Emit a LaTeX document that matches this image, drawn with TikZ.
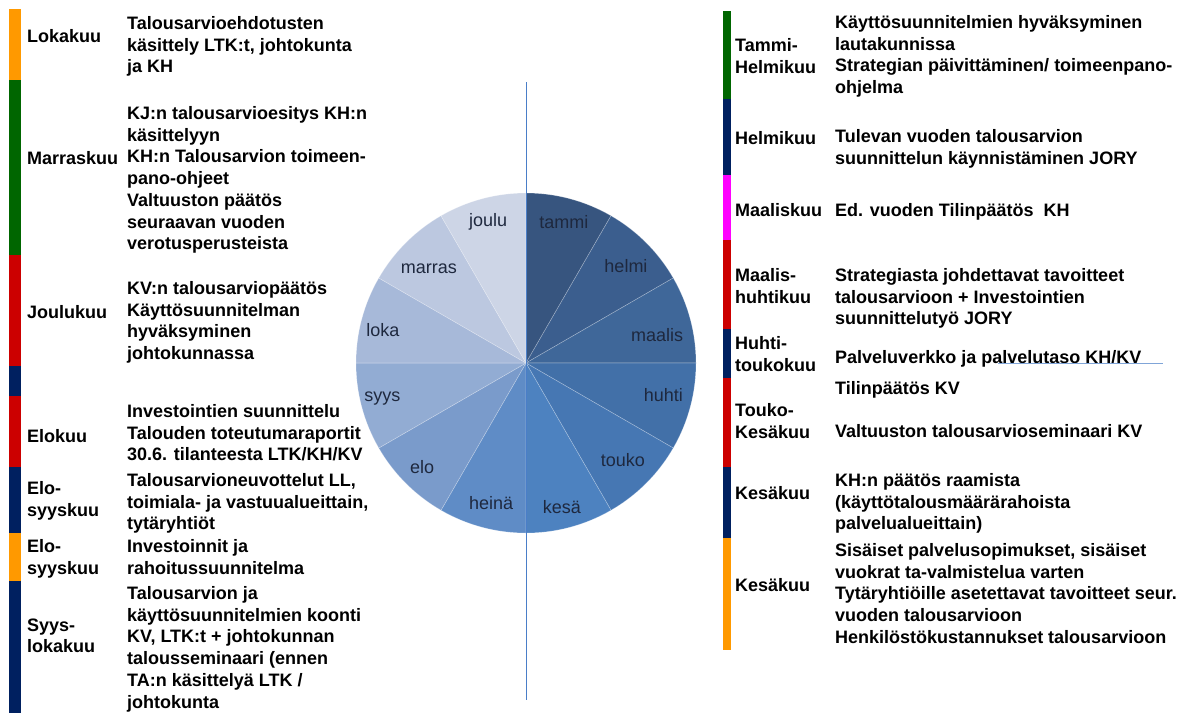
\documentclass[tikz,border=0pt]{standalone}
\usepackage{fontspec}
\setmainfont{Liberation Sans}
\usetikzlibrary{positioning}

\definecolor{barorange}{RGB}{255,153,0}
\definecolor{bargreen}{RGB}{0,102,0}
\definecolor{barred}{RGB}{204,0,0}
\definecolor{barnavy}{RGB}{0,32,96}
\definecolor{barpink}{RGB}{255,0,255}
\definecolor{axisblue}{RGB}{74,126,200}
\definecolor{pietext}{RGB}{30,40,62}
\definecolor{pie0}{RGB}{55,85,127}
\definecolor{pie1}{RGB}{59,94,142}
\definecolor{pie2}{RGB}{63,103,153}
\definecolor{pie3}{RGB}{66,112,168}
\definecolor{pie4}{RGB}{70,119,179}
\definecolor{pie5}{RGB}{77,130,192}
\definecolor{pie6}{RGB}{95,140,198}
\definecolor{pie7}{RGB}{122,155,203}
\definecolor{pie8}{RGB}{146,172,211}
\definecolor{pie9}{RGB}{167,185,217}
\definecolor{pie10}{RGB}{188,200,224}
\definecolor{pie11}{RGB}{205,213,230}

\begin{document}
\begin{tikzpicture}[
  x=1pt, y=1pt,
  month/.style={anchor=north west, inner sep=0pt, align=left,
                font=\bfseries\fontsize{18}{21.7}\selectfont,
                execute at begin node=\strut},
  task/.style={month},
  slice/.style={draw=white, draw opacity=0.3, line width=0.6pt},
  slicelabel/.style={inner sep=0pt, text=pietext,
                     font=\fontsize{18}{21.7}\selectfont},
  axis/.style={draw=axisblue, line width=1pt}
]
\useasboundingbox (0,0) rectangle (1183,-713);

%% Colour bars
\foreach \top/\bot/\col in {9/80/barorange, 80/255/bargreen, 255/366/barred,
    366/396/barnavy, 396/467/barred, 467/533/barnavy, 533/581/barorange,
    581/713/barnavy}
  \fill[\col] (9,-\top) rectangle (21,-\bot);
\foreach \top/\bot/\col in {11/99/bargreen, 99/175/barnavy, 175/240/barpink,
    240/329/barred, 329/378/barnavy, 378/467/barred, 467/538/barnavy,
    538/650/barorange}
  \fill[\col] (723,-\top) rectangle (731,-\bot);

%% Year wheel
\begin{scope}[shift={(526,-363)}]
  \foreach \name/\ang/\rad [count=\i from 0] in {tammi/75/146, helmi/44/139,
      maalis/12/134, huhti/-13/141, touko/-45/137, kes\"a/-76/148,
      hein\"a/-104/144, elo/-135/147, syys/-166/148, loka/167/147,
      marras/136/135, joulu/105/146} {
    \filldraw[slice, fill=pie\i] (0,0) -- ({90-30*\i}:170)
      arc[start angle={90-30*\i}, end angle={60-30*\i}, radius=170] -- cycle;
    \node[slicelabel] (s-\i) at (\ang:\rad) {\name};
  }
\end{scope}
\coordinate (ax-top) at (526,-82);
\coordinate (ax-bot) at (526,-700);
\draw[axis] (ax-top) -- (ax-bot);

%% Left column: autumn
\node[month] (lbl-loka) at (27,-27.3) {Lokakuu};
\node[task] (txt-loka) at (127,-16.3)
  {Talousarvioehdotusten\\k\"asittely LTK:t, johtokunta\\ja KH};

\node[month] (lbl-marras) at (27,-149.3) {Marraskuu};
\node[task] (txt-marras) at (127,-106.3)
  {KJ:n talousarvioesitys KH:n\\k\"asittelyyn\\KH:n Talousarvion toimeen-\\
   pano-ohjeet\\Valtuuston p\"a\"at\"os\\seuraavan vuoden\\verotusperusteista};

\node[month] (lbl-joulu) at (27,-303.3) {Joulukuu};
\node[task] (txt-joulu) at (127,-281.3)
  {KV:n talousarviop\"a\"at\"os\\K\"aytt\"osuunnitelman\\hyv\"aksyminen\\johtokunnassa};

\node[month] (lbl-elo) at (27,-427.3) {Elokuu};
\node[task] (txt-elo) at (127,-404.3)
  {Investointien suunnittelu\\Talouden toteutumaraportit\\30.6. tilanteesta LTK/KH/KV};

\node[month] (lbl-elosyys) at (27,-481.3) {Elo-\\syyskuu};
\node[task] (txt-elosyys) at (127,-473.3)
  {Talousarvioneuvottelut LL,\\toimiala- ja vastuualueittain,\\tyt\"aryhti\"ot};

\node[month] (lbl-elosyys2) at (27,-539.3) {Elo-\\syyskuu};
\node[task] (txt-elosyys2) at (127,-539.3)
  {Investoinnit ja\\rahoitussuunnitelma};

\node[month] (lbl-syysloka) at (27,-618.3) {Syys-\\lokakuu};
\node[task] (txt-syysloka) at (127,-586.3)
  {Talousarvion ja\\k\"aytt\"osuunnitelmien koonti\\KV, LTK:t + johtokunnan\\
   talousseminaari (ennen\\TA:n k\"asittely\"a LTK /\\johtokunta};

%% Right column: spring
\node[month] (lbl-tammi) at (735,-38.3) {Tammi-\\Helmikuu};
\node[task] (txt-tammi) at (835,-15.3)
  {K\"aytt\"osuunnitelmien hyv\"aksyminen\\lautakunnissa\\
   Strategian p\"aivitt\"aminen/ toimeenpano-\\ohjelma};

\node[month] (lbl-helmi) at (735,-129.3) {Helmikuu};
\node[task] (txt-helmi) at (835,-129.3)
  {Tulevan vuoden talousarvion\\suunnittelun k\"aynnist\"aminen JORY};

\node[month] (lbl-maalis) at (735,-201.3) {Maaliskuu};
\node[task] (txt-maalis) at (835,-201.3) {Ed. vuoden Tilinp\"a\"at\"os\ \ KH};

\node[month] (lbl-maalishuhti) at (735,-268.3) {Maalis-\\huhtikuu};
\node[task] (txt-maalishuhti) at (835,-268.3)
  {Strategiasta johdettavat tavoitteet\\talousarvioon + Investointien\\
   suunnittelutyö JORY};

\node[month] (lbl-huhtitouko) at (735,-336.3) {Huhti-\\toukokuu};
\node[task] (txt-huhtitouko) at (835,-348.3)
  {Palveluverkko ja palvelutaso KH/KV};
\coordinate (ul-a) at (998,-363);
\coordinate (ul-b) at (1163,-363);
\draw[axisblue!70, line width=1pt] (ul-a) -- (ul-b);

\node[month] (lbl-toukokesa) at (735,-403.3) {Touko-\\Kes\"akuu};
\node[task] (txt-toukokesa) at (835,-381.3)
  {Tilinp\"a\"at\"os KV\\[21.7pt]Valtuuston talousarvioseminaari KV};

\node[month] (lbl-kesa) at (735,-484.3) {Kes\"akuu};
\node[task] (txt-kesa) at (835,-473.3)
  {KH:n p\"a\"at\"os raamista\\(k\"aytt\"otalousm\"a\"ar\"arahoista\\palvelualueittain)};

\node[month] (lbl-kesa2) at (735,-576.3) {Kes\"akuu};
\node[task] (txt-kesa2) at (835,-543.3)
  {Sis\"aiset palvelusopimukset, sis\"aiset\\vuokrat ta-valmistelua varten\\
   Tyt\"aryhti\"oille asetettavat tavoitteet seur.\\vuoden talousarvioon\\
   Henkil\"ost\"okustannukset talousarvioon};

\end{tikzpicture}
\end{document}
